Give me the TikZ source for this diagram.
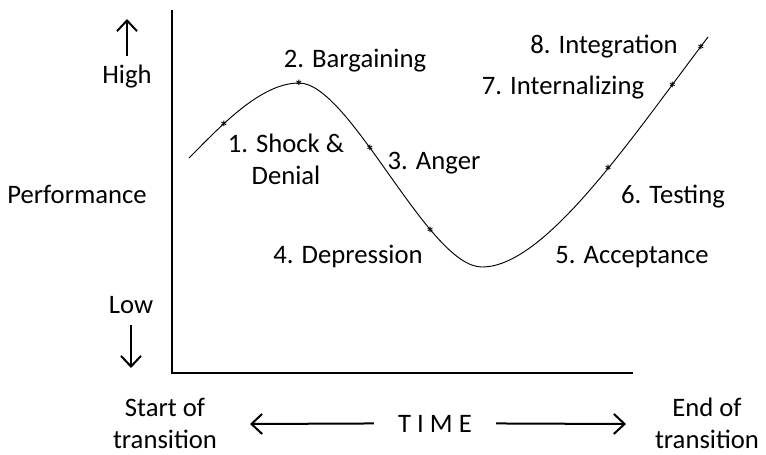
\documentclass[tikz,border=0pt]{standalone}
\usepackage{fontspec}
\setmainfont{Carlito}
\usetikzlibrary{arrows.meta}

\begin{document}
\begin{tikzpicture}[x=0.75pt,y=-0.75pt,>=Latex,
  lbl/.style={font=\fontsize{20}{24}\selectfont,inner sep=0pt,anchor=base},
  axisline/.style={line width=1.5pt},
  barb/.style={line width=1.5pt,-{Straight Barb[length=8pt,width=15pt,line width=1.5pt]}},
  curveline/.style={line width=0.7pt},
  astmark/.style={font=\fontsize{13}{13}\selectfont\bfseries,inner sep=0pt,yshift=-2.6pt}]
  \useasboundingbox (0,0) rectangle (766,454);
  % axes
  \coordinate (ytop) at (172,10);
  \coordinate (orig) at (172,373);
  \coordinate (xend) at (633,373);
  \draw[axisline] (ytop) -- (orig) -- (xend);
  % left side
  \node[lbl] (high) at (127,83) {High};
  \node[lbl] (low) at (131,313) {Low};
  \node[lbl] (perf) at (77,203) {Performance};
  \coordinate (hitip) at (127,19);
  \coordinate (lotip) at (131,368);
  \draw[barb] ([yshift=6pt]high.north) -- (hitip);
  \draw[barb] ([yshift=-9pt]low.south) -- (lotip);
  % bottom row
  \node[lbl,align=center] (start) at (165,448) {Start of\\transition};
  \node[lbl,align=center] (finish) at (707,448) {End of\\transition};
  \node[lbl] (time) at (435,432) {T I M E};
  \coordinate (lefttip) at (250,424);
  \coordinate (righttip) at (626,424);
  \draw[barb] ([xshift=-18pt]time.west) -- (lefttip);
  \draw[barb] ([xshift=18pt]time.east) -- (righttip);
  % the curve with its marks
  \draw[curveline] (189,158) .. controls (219,128) and (260,83) .. (299,83)
      node[astmark,pos=0.35] (s1) {*} node[astmark,pos=1] (s2) {*}
    .. controls (350,83) and (428,267) .. (482,267)
      node[astmark,pos=0.4] (s3) {*} node[astmark,pos=0.71] (s4) {*}
    .. controls (545,267) and (630,140) .. (708,37)
      node[astmark,pos=0.58] (s6) {*} node[astmark,pos=0.85] (s7) {*}
      node[astmark,pos=0.97] (s8) {*};
  % stage labels
  \node[lbl,align=center] (shock) at (286,184) {1. Shock \&\\Denial};
  \node[lbl] (barg) at (355,67) {2. Bargaining};
  \node[lbl] (anger) at (434,169) {3. Anger};
  \node[lbl] (depr) at (348,263) {4. Depression};
  \node[lbl] (accept) at (632,263) {5. Acceptance};
  \node[lbl] (test) at (673,203) {6. Testing};
  \node[lbl] (intern) at (563,94) {7. Internalizing};
  \node[lbl] (integ) at (604,53) {8. Integration};
\end{tikzpicture}
\end{document}
